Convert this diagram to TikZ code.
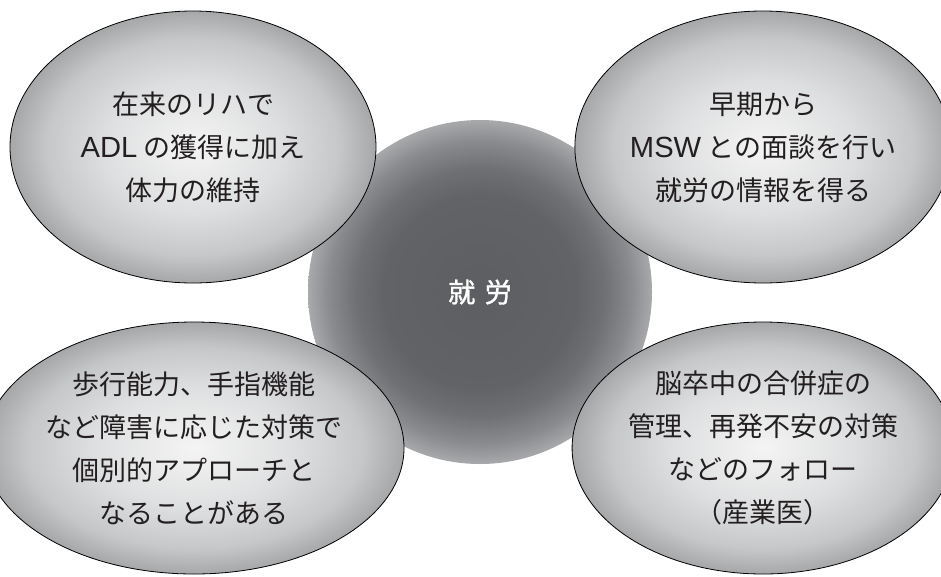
\documentclass[tikz,border=0pt]{standalone}
\usepackage{fontspec}
\setmainfont{Noto Sans CJK JP}
\newfontfamily\latfont[Scale=1.08]{Liberation Sans}
\newfontfamily\corefont[FakeBold=1.2]{Noto Sans CJK JP}
\usetikzlibrary{shapes.geometric}
\definecolor{ellin}{HTML}{F4F4F4}
\definecolor{ellmid}{HTML}{DEDFE0}
\definecolor{ellmid2}{HTML}{C6C7C9}
\definecolor{ellout}{HTML}{A6A7A9}
\definecolor{cirin}{HTML}{5D5E62}
\definecolor{cirmid}{HTML}{626367}
\definecolor{cirmid2}{HTML}{6F7074}
\definecolor{cirmid3}{HTML}{8A8B8F}
\definecolor{cirout}{HTML}{A8A9AB}
\definecolor{txt}{HTML}{231F20}
\pgfdeclareradialshading{ellshade}{\pgfpoint{0bp}{0bp}}{color(0bp)=(ellin); color(12bp)=(ellmid); color(20bp)=(ellmid2); color(25bp)=(ellout); color(50bp)=(ellout)}
\pgfdeclareradialshading{cirshade}{\pgfpoint{0bp}{0bp}}{color(0bp)=(cirin); color(14bp)=(cirmid); color(18bp)=(cirmid2); color(22bp)=(cirmid3); color(25bp)=(cirout); color(50bp)=(cirout)}
\tikzset{
  bubble/.style={ellipse, draw=black, line width=0.8pt, shading=ellshade, inner sep=0pt,
    align=center, text=txt, font=\fontsize{27}{43}\selectfont},
  core/.style={circle, shading=cirshade, inner sep=0pt, minimum size=344pt,
    text=white, font=\fontsize{27}{43}\selectfont\corefont}
}
\begin{document}
\begin{tikzpicture}[x=1pt,y=-1pt]
\useasboundingbox (0,0) rectangle (941,576);
\node[core] (c) at (480,292) {就\hspace{0.35em}労};
\node[bubble, minimum width=366pt, minimum height=272pt] (tl) at (193,147)
  {在来のリハで\\{\latfont ADL} の獲得に加え\\体力の維持};
\node[bubble, minimum width=354pt, minimum height=272pt] (tr) at (763,147)
  {早期から\\{\latfont MSW} との面談を行い\\就労の情報を得る};
\node[bubble, minimum width=368pt, minimum height=252pt] (bl) at (194,448)
  {歩行能力、手指機能\\など障害に応じた対策で\\個別的アプローチと\\なることがある};
\node[bubble, minimum width=356pt, minimum height=252pt] (br) at (763,448)
  {脳卒中の合併症の\\管理、再発不安の対策\\などのフォロー\\（産業医）};
\end{tikzpicture}
\end{document}
